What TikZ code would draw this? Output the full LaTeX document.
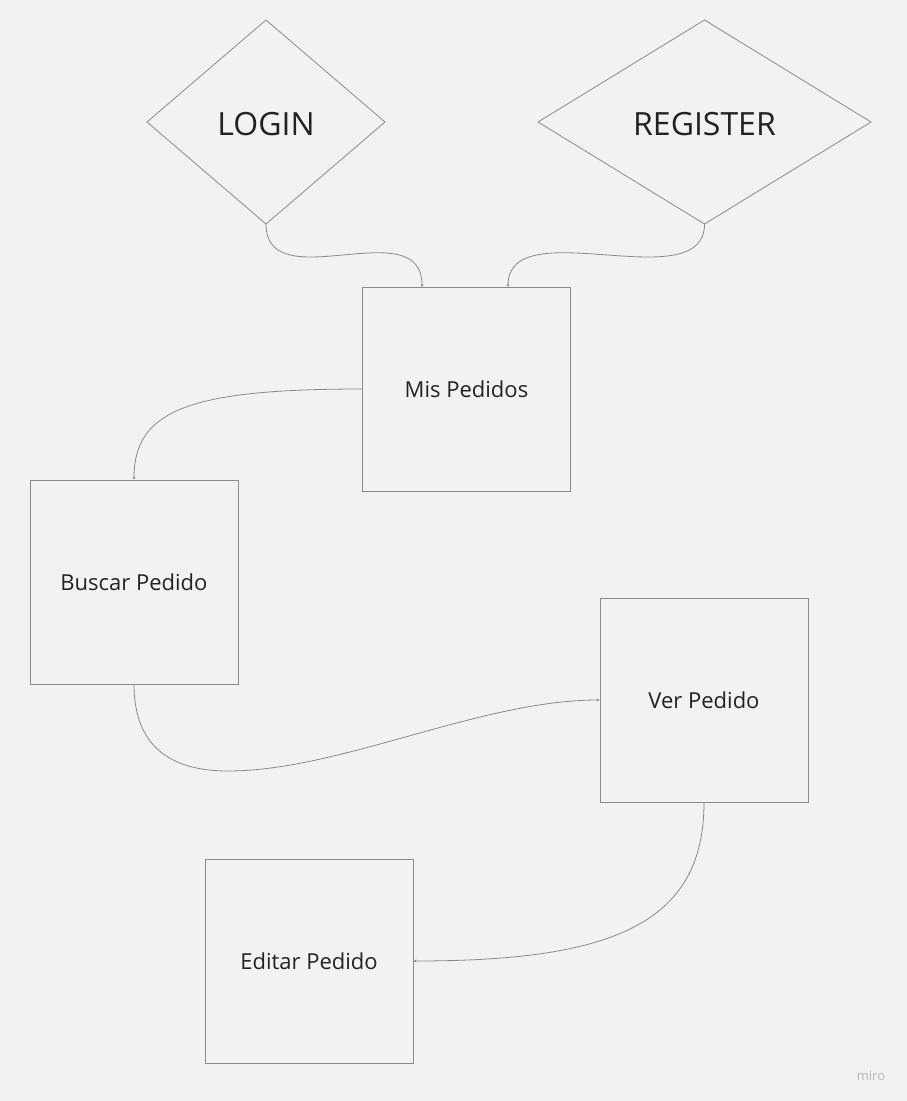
\documentclass[tikz,border=0pt]{standalone}
\usepackage{fontspec}
\setmainfont{Open Sans}
\usetikzlibrary{arrows.meta,shapes.geometric}
\definecolor{bg}{HTML}{F2F2F2}
\definecolor{edge}{HTML}{8A8A8A}
\definecolor{txt}{HTML}{222222}
\tikzset{
  every node/.style={text=txt},
  box/.style={draw=edge, line width=0.9pt, minimum width=208pt, minimum height=204pt, inner sep=0pt, font=\fontsize{22}{26}\selectfont},
  diaedge/.style={draw=edge, line width=0.8pt},
  link/.style={draw=edge, line width=0.8pt, -{Stealth[length=3pt,width=3pt]}}
}
\begin{document}
\begin{tikzpicture}[x=1pt,y=-1pt]
\fill[bg] (0,0) rectangle (907,1101);
\useasboundingbox (0,0) rectangle (907,1101);
% diamonds
\draw[diaedge] (147,122) -- (266,20) -- (385,122) -- (266,224) -- cycle;
\node (login) at (266,124) {\fontsize{32}{38}\selectfont LOGIN};
\coordinate (loginB) at (266,224);
\draw[diaedge] (538,122) -- (704.5,20) -- (871,122) -- (704.5,224) -- cycle;
\node (register) at (704.5,124) {\fontsize{32}{38}\selectfont REGISTER};
\coordinate (registerB) at (704.5,224);
% boxes
\node[box] (mis) at (466.5,389) {Mis Pedidos};
\node[box] (buscar) at (134,582) {Buscar Pedido};
\node[box] (ver) at (704,700) {Ver Pedido};
\node[box] (editar) at (309,961) {Editar Pedido};
\coordinate (misA) at (422,287);
\coordinate (misB) at (508,287);
% connectors
\draw[link] (loginB) .. controls (266,300) and (422,210) .. (misA);
\draw[link] (registerB) .. controls (704.5,300) and (508,210) .. (misB);
\draw[link] (mis.west) .. controls (190,389) and (134,410) .. (buscar.north);
\coordinate (low) at (228,771);
\draw[link] (buscar.south) .. controls (134,750) and (175,771) .. (low) .. controls (340,771) and (480,700) .. (ver.west);
\draw[link] (ver.south) .. controls (704,925) and (610,961) .. (editar.east);
% watermark
\node[text=black!28, font=\fontsize{13}{15}\selectfont] (miro) at (871,1076) {miro};
\end{tikzpicture}
\end{document}
